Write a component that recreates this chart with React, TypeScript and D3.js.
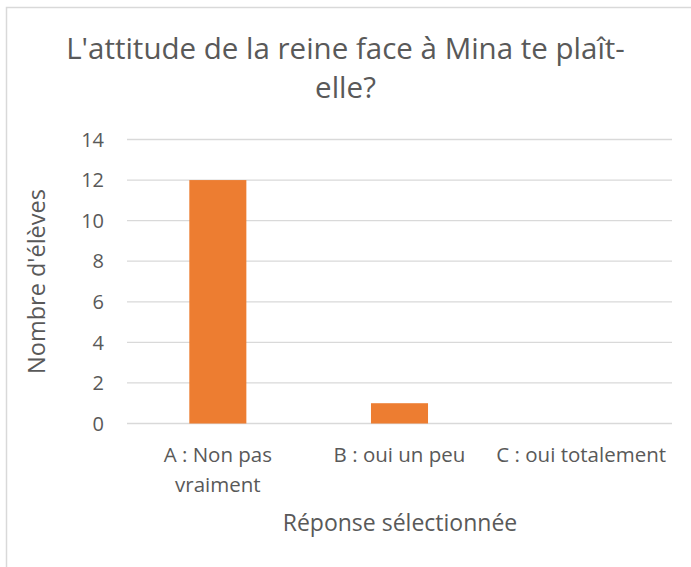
import React from "react";
import * as d3 from "d3";

const categories = ["A : Non pas vraiment", "B : oui un peu", "C : oui totalement"];
const categoryLines = [["A : Non pas", "vraiment"], ["B : oui un peu"], ["C : oui totalement"]];
const values = [12, 1, 0];
const yTicks = [0, 2, 4, 6, 8, 10, 12, 14];
const titleLines = ["L'attitude de la reine face à Mina te plaît-", "elle?"];
const yAxisTitle = "Nombre d'élèves";
const xAxisTitle = "Réponse sélectionnée";

const W = 691;
const H = 567;
const plot = { left: 127, right: 672, top: 139.5, bottom: 423.5 };
const textColor = "#595959";
const gridColor = "#d9d9d9";
const barColor = "#ED7D31";
const font = "Open Sans, sans-serif";

export default function App() {
  const x = d3
    .scaleBand<string>()
    .domain(categories)
    .range([plot.left, plot.right])
    .paddingInner(0.686)
    .paddingOuter(0.343);
  const y = d3.scaleLinear().domain([0, 14]).range([plot.bottom, plot.top]);

  return (
    <svg
      width={W}
      height={H}
      style={{ position: "absolute", left: 0, top: 0, background: "#fff" }}
      fontFamily={font}
    >
      <rect x={6.5} y={7.5} width={W + 10} height={H + 10} fill="#fff" stroke={gridColor} strokeWidth={1.5} />
      {titleLines.map((t, i) => (
        <text key={i} x={345.5} y={59 + i * 39} textAnchor="middle" fontSize={29.5} fill={textColor}>
          {t}
        </text>
      ))}
      {yTicks.map((t) => (
        <g key={t}>
          <line x1={plot.left} x2={plot.right} y1={y(t)} y2={y(t)} stroke={gridColor} strokeWidth={1.3} />
          <text x={104} y={y(t)} dy="0.36em" textAnchor="end" fontSize={20} fill={textColor}>
            {t}
          </text>
        </g>
      ))}
      {categories.map((c, i) => (
        <rect
          key={c}
          x={x(c)}
          y={y(values[i])}
          width={x.bandwidth()}
          height={y(0) - y(values[i])}
          fill={barColor}
        />
      ))}
      {categories.map((c, i) => (
        <text key={c} textAnchor="middle" fontSize={20.5} fill={textColor}>
          {categoryLines[i].map((l, j) => (
            <tspan key={j} x={(x(c) as number) + x.bandwidth() / 2} y={462 + j * 30}>
              {l}
            </tspan>
          ))}
        </text>
      ))}
      <text
        transform={`translate(45, ${(plot.top + plot.bottom) / 2}) rotate(-90)`}
        textAnchor="middle"
        fontSize={23.5}
        fill={textColor}
      >
        {yAxisTitle}
      </text>
      <text x={400} y={531} textAnchor="middle" fontSize={23} fill={textColor}>
        {xAxisTitle}
      </text>
    </svg>
  );
}
